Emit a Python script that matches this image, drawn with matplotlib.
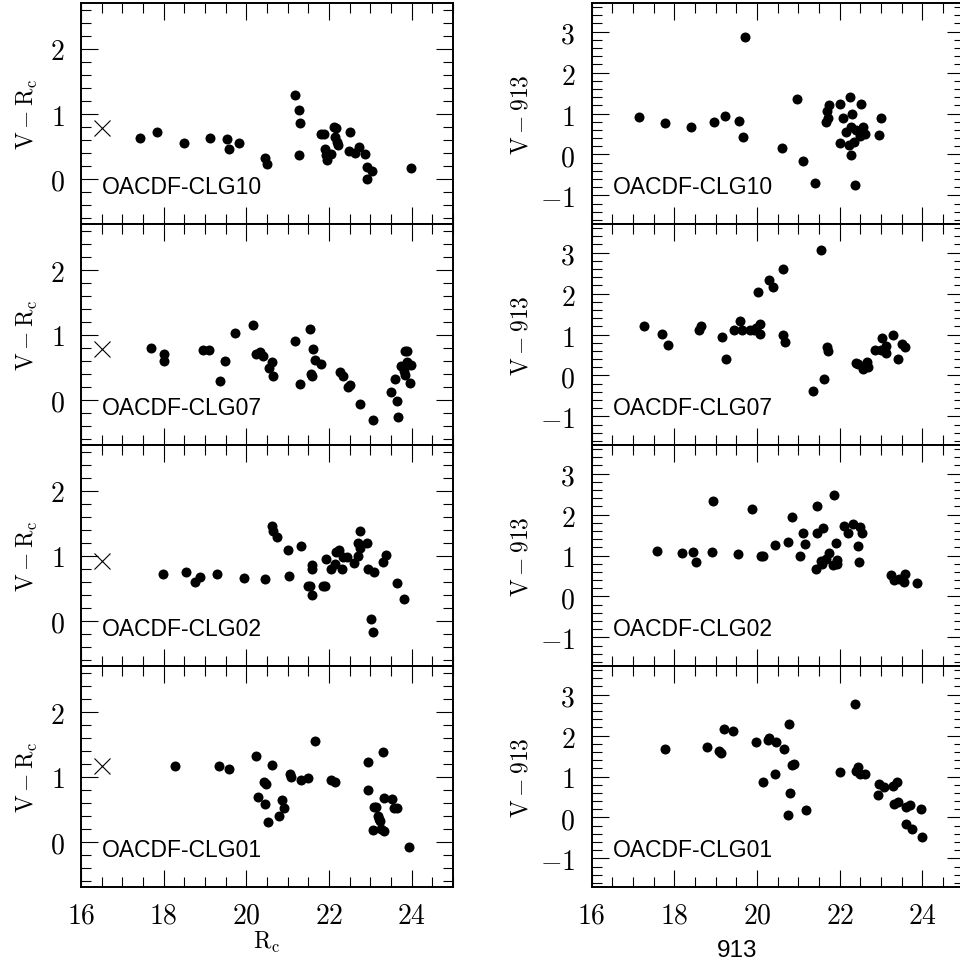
import matplotlib
matplotlib.use("Agg")
import matplotlib.pyplot as plt
from matplotlib.ticker import MultipleLocator, FuncFormatter

plt.rcParams["mathtext.fontset"] = "cm"

# panel order, top to bottom
clusters = ["OACDF-CLG10", "OACDF-CLG07", "OACDF-CLG02", "OACDF-CLG01"]

# left column: Rc vs V-Rc
rc_clg10 = [17.43, 17.84, 18.50, 19.13, 19.54, 19.59, 19.82, 20.44, 20.49, 21.18, 21.27,
            21.29, 21.27, 21.80, 21.88, 21.90, 21.92, 21.94, 22.06, 22.13, 22.18, 22.14,
            22.19, 22.22, 22.52, 22.49, 22.64, 22.72, 22.88, 22.93, 22.92, 23.03, 23.98]
vr_clg10 = [0.63, 0.71, 0.55, 0.63, 0.61, 0.46, 0.55, 0.32, 0.22, 1.29, 1.05,
            0.85, 0.36, 0.68, 0.69, 0.45, 0.36, 0.29, 0.38, 0.80, 0.77, 0.64,
            0.56, 0.52, 0.72, 0.43, 0.39, 0.48, 0.38, 0.18, 0.00, 0.12, 0.16]

rc_clg07 = [17.69, 18.02, 18.01, 18.95, 19.10, 19.36, 19.48, 19.72, 20.17, 20.23, 20.34,
            20.41, 20.56, 20.61, 20.64, 21.18, 21.29, 21.53, 21.62, 21.65, 21.56, 21.60,
            21.81, 22.27, 22.33, 22.46, 22.51, 22.75, 23.06, 23.50, 23.60, 23.64, 23.66,
            23.74, 23.85, 23.89, 23.84, 23.82, 23.89, 23.99, 23.97]
vr_clg07 = [0.79, 0.70, 0.59, 0.76, 0.76, 0.28, 0.60, 1.02, 1.15, 0.70, 0.73,
            0.67, 0.48, 0.57, 0.36, 0.90, 0.24, 1.09, 0.77, 0.61, 0.40, 0.36,
            0.55, 0.43, 0.36, 0.19, 0.23, -0.07, -0.31, 0.12, 0.31, -0.02, -0.27,
            0.51, 0.75, 0.74, 0.37, 0.44, 0.57, 0.53, 0.26]

rc_clg02 = [17.99, 18.54, 18.77, 18.89, 19.30, 19.94, 20.45, 20.62, 20.65, 20.74, 21.02,
            21.04, 21.33, 21.50, 21.54, 21.58, 21.58, 21.60, 21.85, 21.90, 21.92, 22.06,
            22.15, 22.17, 22.24, 22.34, 22.31, 22.43, 22.60, 22.69, 22.71, 22.75, 22.75,
            22.92, 22.95, 23.09, 23.02, 23.07, 23.31, 23.37, 23.65, 23.82]
vr_clg02 = [0.71, 0.74, 0.59, 0.67, 0.72, 0.65, 0.64, 1.45, 1.37, 1.29, 1.08,
            0.69, 1.15, 0.53, 0.53, 0.40, 0.80, 0.86, 0.53, 0.53, 0.95, 0.79,
            0.87, 1.05, 1.09, 0.97, 0.80, 0.97, 0.88, 0.99, 1.20, 1.37, 1.11,
            1.19, 0.80, 0.75, 0.02, -0.18, 0.90, 1.01, 0.57, 0.33]

rc_clg01 = [18.27, 19.33, 19.57, 20.23, 20.29, 20.42, 20.48, 20.45, 20.52, 20.62, 20.80,
            20.86, 20.90, 21.06, 21.08, 21.32, 21.48, 21.65, 22.06, 22.15, 22.94, 22.94,
            23.08, 23.14, 23.07, 23.18, 23.22, 23.24, 23.25, 23.33, 23.30, 23.32, 23.53,
            23.57, 23.65, 23.93]
vr_clg01 = [1.16, 1.16, 1.12, 1.31, 0.68, 0.92, 0.89, 0.57, 0.30, 1.17, 0.39,
            0.64, 0.51, 1.04, 0.99, 0.95, 0.98, 1.54, 0.95, 0.91, 1.23, 0.79,
            0.53, 0.53, 0.18, 0.39, 0.34, 0.31, 0.19, 0.16, 1.38, 0.67, 0.66,
            0.52, 0.51, -0.09]

# right column: 913 vs V-913
m913_clg10 = [17.15, 17.77, 18.40, 18.97, 19.22, 19.57, 19.65, 19.70, 20.60, 20.97, 21.11,
              21.41, 21.66, 21.71, 21.70, 21.73, 22.01, 22.00, 22.08, 22.15, 22.25, 22.29,
              22.22, 22.27, 22.27, 22.35, 22.38, 22.39, 22.48, 22.51, 22.56, 22.61, 22.96,
              22.99]
v913_clg10 = [0.91, 0.78, 0.66, 0.80, 0.94, 0.81, 0.43, 2.88, 0.16, 1.36, -0.16,
              -0.69, 0.80, 0.88, 1.07, 1.21, 1.23, 0.27, 0.90, 0.56, 1.40, 0.98,
              0.22, -0.02, 0.67, 0.30, -0.75, 0.60, 0.44, 1.22, 0.66, 0.50, 0.48,
              0.90]

m913_clg07 = [17.27, 17.71, 17.85, 18.59, 18.64, 19.15, 19.26, 19.44, 19.58, 19.63, 19.82,
              19.92, 19.97, 20.07, 20.07, 20.03, 20.30, 20.38, 20.62, 20.63, 20.67, 21.36,
              21.55, 21.61, 21.69, 21.72, 22.40, 22.45, 22.57, 22.67, 22.69, 22.85, 22.99,
              23.02, 23.11, 23.13, 23.29, 23.40, 23.51, 23.58]
v913_clg07 = [1.20, 1.02, 0.75, 1.12, 1.20, 0.93, 0.40, 1.10, 1.34, 1.12, 1.12,
              1.11, 1.16, 1.25, 1.01, 2.04, 2.33, 2.17, 2.61, 0.98, 0.81, -0.38,
              3.07, -0.09, 0.70, 0.59, 0.31, 0.28, 0.16, 0.32, 0.20, 0.61, 0.63,
              0.91, 0.73, 0.55, 1.00, 0.41, 0.76, 0.69]

m913_clg02 = [17.58, 18.19, 18.46, 18.52, 18.93, 18.91, 19.54, 19.88, 20.10, 20.15, 20.44,
              20.74, 20.84, 21.03, 21.12, 21.15, 21.42, 21.45, 21.44, 21.54, 21.57, 21.60,
              21.67, 21.73, 21.87, 21.83, 21.90, 21.94, 21.94, 22.11, 22.19, 22.32, 22.49,
              22.53, 22.44, 22.47, 23.24, 23.31, 23.44, 23.58, 23.56, 23.86]
v913_clg02 = [1.12, 1.07, 1.09, 0.83, 2.32, 1.08, 1.03, 2.14, 0.99, 0.98, 1.26,
              1.34, 1.95, 0.98, 1.56, 1.28, 0.67, 2.22, 1.56, 0.87, 0.79, 1.68,
              0.91, 1.05, 2.48, 0.76, 1.30, 0.90, 0.79, 1.73, 1.54, 1.77, 1.70,
              1.56, 1.23, 0.83, 0.52, 0.39, 0.43, 0.56, 0.35, 0.34]

m913_clg01 = [17.77, 18.79, 19.09, 19.12, 19.21, 19.41, 19.98, 20.15, 20.26, 20.30, 20.43,
              20.46, 20.65, 20.75, 20.78, 20.80, 20.84, 20.90, 21.19, 22.00, 22.37, 22.40,
              22.45, 22.48, 22.60, 22.93, 22.96, 23.07, 23.28, 23.38, 23.32, 23.42, 23.60,
              23.69, 23.61, 23.75, 23.96, 23.99]
v913_clg01 = [1.67, 1.71, 1.62, 1.58, 2.16, 2.12, 1.85, 0.86, 1.88, 1.93, 1.06,
              1.84, 1.68, 0.07, 2.29, 0.59, 1.27, 1.31, 0.17, 1.11, 2.77, 1.13,
              1.24, 1.07, 1.06, 0.55, 0.81, 0.75, 0.78, 0.86, 0.32, 0.38, 0.26,
              0.30, -0.17, -0.29, 0.21, -0.48]

# cross marker in the left panels
cross_x = 16.5
cross_y = [0.77, 0.77, 0.91, 1.16]

left_x = [rc_clg10, rc_clg07, rc_clg02, rc_clg01]
left_y = [vr_clg10, vr_clg07, vr_clg02, vr_clg01]
right_x = [m913_clg10, m913_clg07, m913_clg02, m913_clg01]
right_y = [v913_clg10, v913_clg07, v913_clg02, v913_clg01]

W, H = 960, 962
fig = plt.figure(figsize=(W / 100, H / 100), dpi=100)

top_px, bot_px = 4, 888
ph = (bot_px - top_px) / 4
math_fmt = FuncFormatter(lambda v, p: f"${v:g}$")


def style_axes(ax, ymajor):
    ax.set_xlim(16, 25)
    ax.xaxis.set_major_locator(MultipleLocator(2))
    ax.xaxis.set_minor_locator(MultipleLocator(0.5))
    ax.yaxis.set_major_locator(MultipleLocator(ymajor))
    ax.yaxis.set_minor_locator(MultipleLocator(0.2))
    ax.tick_params(which="both", direction="in", top=True, right=True,
                   width=0.8, labelsize=20)
    ax.tick_params(which="major", length=12.5, pad=10)
    ax.tick_params(which="minor", length=7)
    ax.tick_params(axis="y", pad=12)
    ax.xaxis.set_major_formatter(math_fmt)
    ax.yaxis.set_major_formatter(math_fmt)
    for s in ax.spines.values():
        s.set_linewidth(1.4)


for i in range(4):
    y0 = 1 - (top_px + ph * (i + 1)) / H
    h = ph / H

    # left panel
    ax = fig.add_axes([81 / W, y0, 372 / W, h])
    ax.plot(left_x[i], left_y[i], "o", color="black", ms=7.2, mec="none")
    ax.plot([cross_x], [cross_y[i]], "x", color="black", ms=11, mew=0.8)
    style_axes(ax, 1)
    ax.set_ylim(-0.7, 2.7)
    ax.set_ylabel(r"$\mathrm{V}-\mathrm{R_c}$", fontsize=17)
    ax.yaxis.set_label_coords(-0.11, 0.5)
    ax.text(0.056, 0.142, clusters[i], transform=ax.transAxes, va="baseline",
            ha="left", fontsize=16.5, family="Liberation Sans")
    if i < 3:
        ax.tick_params(labelbottom=False)
    else:
        ax.set_xlabel(r"$\mathrm{R_c}$", fontsize=17)
        ax.xaxis.set_label_coords(0.5, -0.19)

    # right panel
    ax = fig.add_axes([591.7 / W, y0, 372 / W, h])
    ax.plot(right_x[i], right_y[i], "o", color="black", ms=7.2, mec="none")
    style_axes(ax, 1)
    ax.set_ylim(-1.7, 3.7)
    ax.set_ylabel(r"$\mathrm{V}-913$", fontsize=17)
    ax.yaxis.set_label_coords(-0.16, 0.5)
    ax.text(0.058, 0.142, clusters[i], transform=ax.transAxes, va="baseline",
            ha="left", fontsize=16.5, family="Liberation Sans")
    if i < 3:
        ax.tick_params(labelbottom=False)
    else:
        ax.set_xlabel("913", fontsize=17.5, family="Liberation Sans")
        ax.xaxis.set_label_coords(0.39, -0.235)

fig.savefig("out.png", dpi=100)
